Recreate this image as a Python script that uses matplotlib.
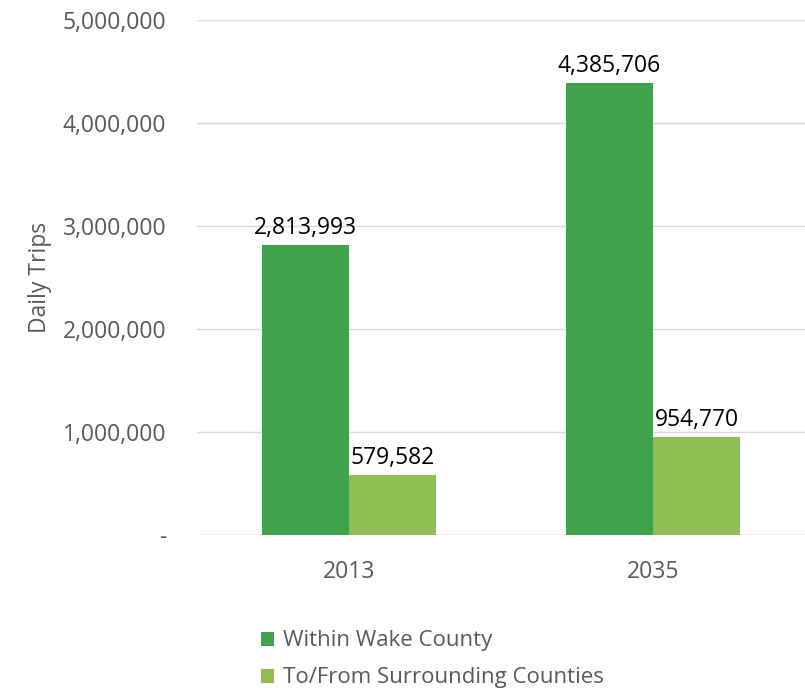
import matplotlib.pyplot as plt
import numpy as np
from matplotlib.ticker import FuncFormatter

years = ['2013', '2035']
withinWake = [2813993, 4385706]
surrounding = [579582, 954770]
seriesNames = ['Within Wake County', 'To/From Surrounding Counties']

darkGreen = '#41A34B'
lightGreen = '#8DBF52'
gray = '#595959'
fs = 16.5

plt.rcParams['font.family'] = ['Open Sans', 'DejaVu Sans']

fig = plt.figure(figsize=(8.05, 6.88), dpi=100)
ax = fig.add_axes([0.2447, 0.2224, 0.7553, 0.7485])

x = np.arange(len(years))
width = 0.286
bars1 = ax.bar(x - width / 2, withinWake, width, color=darkGreen, label=seriesNames[0], zorder=3)
bars2 = ax.bar(x + width / 2, surrounding, width, color=lightGreen, label=seriesNames[1], zorder=3)

for bars in (bars1, bars2):
    for b in bars:
        ax.text(b.get_x() + b.get_width() / 2, b.get_height() + 50000, '{:,}'.format(int(b.get_height())),
                ha='center', va='bottom', fontsize=fs, color='black', zorder=4)

ax.set_xlim(-0.5, 1.5)
ax.set_ylim(0, 5000000)
ax.set_yticks(np.arange(0, 5000001, 1000000))
ax.yaxis.set_major_formatter(FuncFormatter(lambda v, p: '-' if v == 0 else '{:,}'.format(int(v))))
ax.set_xticks(x)
ax.set_xticklabels(years)
ax.tick_params(axis='both', length=0, labelsize=fs, labelcolor=gray)
ax.tick_params(axis='y', pad=22)
ax.tick_params(axis='x', pad=18)
ax.grid(axis='y', color='#D9D9D9', linewidth=1, zorder=0)
for s in ax.spines.values():
    s.set_visible(False)
ax.axhline(0, color='#D9D9D9', linewidth=1, zorder=2)

ax.set_ylabel('Daily Trips', fontsize=fs, color=gray, labelpad=8)

ax.legend(loc='upper left', bbox_to_anchor=(0.09, -0.168), frameon=False, fontsize=16,
          handlelength=0.6, handleheight=0.6, handletextpad=0.4, labelspacing=0.72, labelcolor=gray,
          borderaxespad=0)

plt.savefig('out.png', dpi=100)
